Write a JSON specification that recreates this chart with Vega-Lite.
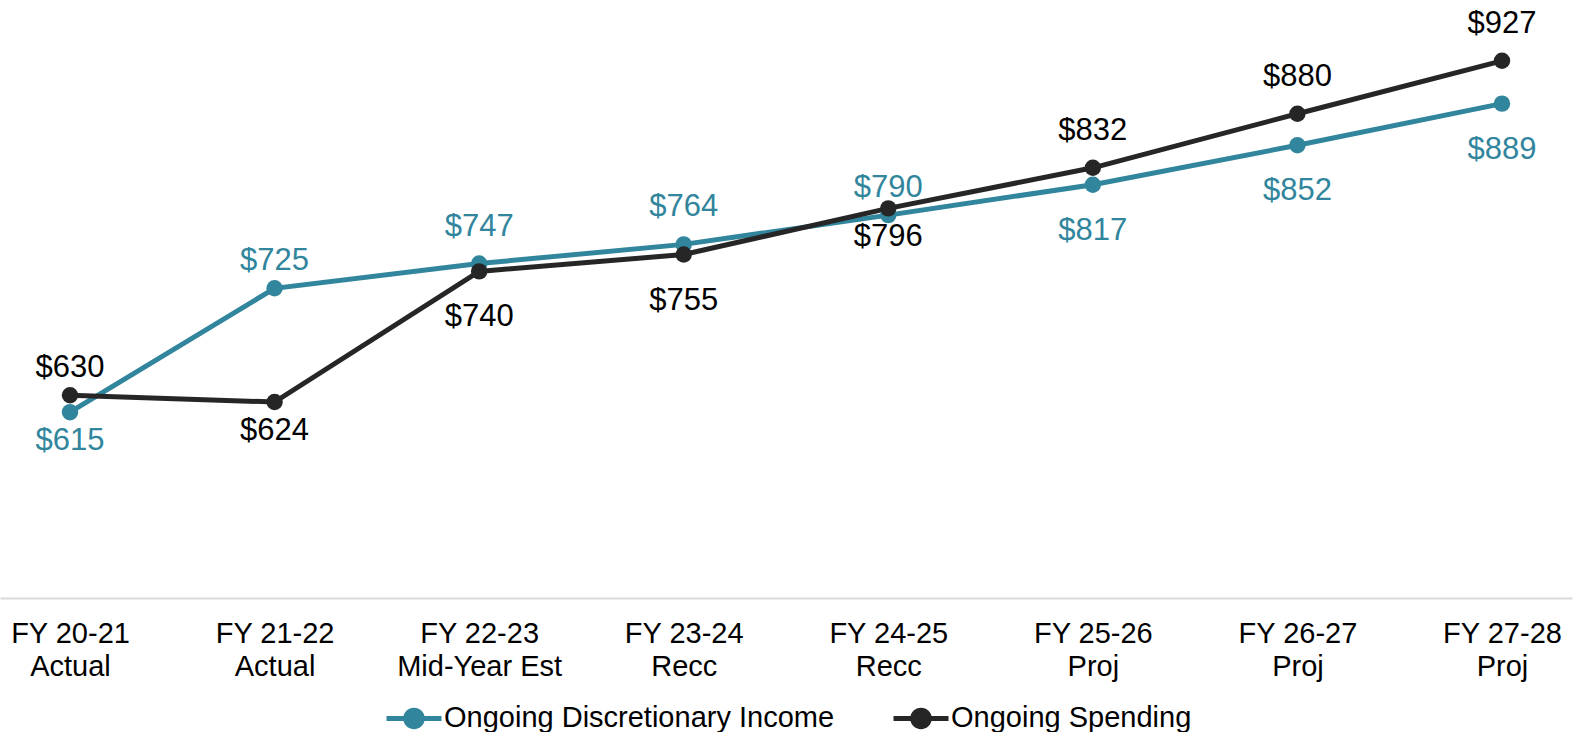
{
  "$schema": "https://vega.github.io/schema/vega-lite/v6.json",
  "width": 1572,
  "height": 598,
  "autosize": {"type": "none"},
  "padding": {"left": 0, "top": 0, "right": 3, "bottom": 134},
  "background": "white",
  "config": {"view": {"stroke": null}, "font": "Liberation Sans"},
  "data": {
    "values": [
      {"fy": "FY 20-21|Actual", "series": "Ongoing Discretionary Income", "value": 615},
      {"fy": "FY 21-22|Actual", "series": "Ongoing Discretionary Income", "value": 725},
      {"fy": "FY 22-23|Mid-Year Est", "series": "Ongoing Discretionary Income", "value": 747},
      {"fy": "FY 23-24|Recc", "series": "Ongoing Discretionary Income", "value": 764},
      {"fy": "FY 24-25|Recc", "series": "Ongoing Discretionary Income", "value": 790},
      {"fy": "FY 25-26|Proj", "series": "Ongoing Discretionary Income", "value": 817},
      {"fy": "FY 26-27|Proj", "series": "Ongoing Discretionary Income", "value": 852},
      {"fy": "FY 27-28|Proj", "series": "Ongoing Discretionary Income", "value": 889},
      {"fy": "FY 20-21|Actual", "series": "Ongoing Spending", "value": 630},
      {"fy": "FY 21-22|Actual", "series": "Ongoing Spending", "value": 624},
      {"fy": "FY 22-23|Mid-Year Est", "series": "Ongoing Spending", "value": 740},
      {"fy": "FY 23-24|Recc", "series": "Ongoing Spending", "value": 755},
      {"fy": "FY 24-25|Recc", "series": "Ongoing Spending", "value": 796},
      {"fy": "FY 25-26|Proj", "series": "Ongoing Spending", "value": 832},
      {"fy": "FY 26-27|Proj", "series": "Ongoing Spending", "value": 880},
      {"fy": "FY 27-28|Proj", "series": "Ongoing Spending", "value": 927}
    ]
  },
  "encoding": {
    "x": {
      "field": "fy",
      "type": "ordinal",
      "sort": null,
      "scale": {"type": "point", "padding": 0.3422},
      "axis": {
        "title": null,
        "labelAngle": 0,
        "ticks": false,
        "grid": false,
        "domain": true,
        "domainColor": "#D9D9D9",
        "domainWidth": 2,
        "labelExpr": "split(datum.label, '|')",
        "labelFontSize": 29,
        "labelLineHeight": 33,
        "labelPadding": 21,
        "labelColor": "#000000",
        "labelFont": "Liberation Sans"
      }
    },
    "y": {
      "field": "value",
      "type": "quantitative",
      "scale": {"domain": [450, 981], "zero": false, "nice": false},
      "axis": null
    }
  },
  "layer": [
    {
      "mark": {"type": "line", "strokeWidth": 5},
      "encoding": {
        "color": {
          "field": "series",
          "type": "nominal",
          "scale": {"domain": ["Ongoing Discretionary Income", "Ongoing Spending"], "range": ["#31859C", "#262626"]},
          "legend": {
            "orient": "none",
            "legendX": 384,
            "legendY": 688,
            "direction": "horizontal",
            "title": null,
            "symbolType": "M-1,0H1M0.3,0A0.3,0.3,0,1,1,-0.3,0A0.3,0.3,0,1,1,0.3,0Z",
            "symbolSize": 3025,
            "symbolStrokeWidth": 5,
            "labelFontSize": 29,
            "labelLimit": 2000,
            "labelColor": "#000000",
            "labelFont": "Liberation Sans",
            "labelOffset": 0,
            "columnPadding": 48,
            "padding": 0,
            "encode": {
              "symbols": {
                "update": {
                  "fill": {"scale": "color", "field": "value"},
                  "stroke": {"scale": "color", "field": "value"},
                  "opacity": {"value": 1}
                }
              }
            }
          }
        }
      }
    },
    {
      "mark": {"type": "point", "filled": true, "size": 270, "opacity": 1},
      "encoding": {
        "color": {"field": "series", "type": "nominal"}
      }
    },
    {
      "transform": [{"filter": "indexof([725, 630, 790], datum.value) >= 0"}],
      "mark": {"type": "text", "baseline": "alphabetic", "dy": -18, "fontSize": 31, "font": "Liberation Sans"},
      "encoding": {
        "text": {"field": "value", "type": "quantitative", "format": "$.0f"},
        "fill": {"field": "series", "type": "nominal", "scale": {"domain": ["Ongoing Discretionary Income", "Ongoing Spending"], "range": ["#31859C", "#000000"]}, "legend": null}
      }
    },
    {
      "transform": [{"filter": "indexof([747, 764, 832, 880, 927], datum.value) >= 0"}],
      "mark": {"type": "text", "baseline": "alphabetic", "dy": -28, "fontSize": 31, "font": "Liberation Sans"},
      "encoding": {
        "text": {"field": "value", "type": "quantitative", "format": "$.0f"},
        "fill": {"field": "series", "type": "nominal", "legend": null}
      }
    },
    {
      "transform": [{"filter": "indexof([615, 624, 796], datum.value) >= 0"}],
      "mark": {"type": "text", "baseline": "top", "dy": 14, "fontSize": 31, "font": "Liberation Sans"},
      "encoding": {
        "text": {"field": "value", "type": "quantitative", "format": "$.0f"},
        "fill": {"field": "series", "type": "nominal", "legend": null}
      }
    },
    {
      "transform": [{"filter": "indexof([740, 755, 817, 852, 889], datum.value) >= 0"}],
      "mark": {"type": "text", "baseline": "top", "dy": 31, "fontSize": 31, "font": "Liberation Sans"},
      "encoding": {
        "text": {"field": "value", "type": "quantitative", "format": "$.0f"},
        "fill": {"field": "series", "type": "nominal", "legend": null}
      }
    }
  ]
}
